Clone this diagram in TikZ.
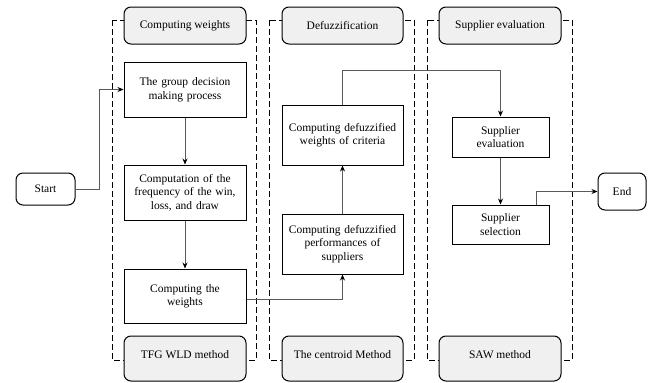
\documentclass[tikz,border=0pt]{standalone}
\usepackage{fontspec}
\setmainfont{Liberation Serif}
\usepackage{tikz}
\usetikzlibrary{arrows.meta,shapes}

\tikzset{
    lane/.style={draw, dashed, line width=1pt, dash pattern=on 6pt off 3pt},
    tag/.style={draw, rounded corners=7pt, fill=black!6, line width=1pt,
        minimum width=122pt, inner sep=0pt, font=\fontsize{11.5}{13.5}\selectfont},
    proc/.style={draw, line width=1pt, minimum width=122pt, inner sep=0pt,
        align=center, text width=116pt, font=\fontsize{11.5}{13.5}\selectfont},
    term/.style={draw, rounded corners=7pt, line width=1pt, inner sep=0pt,
        font=\fontsize{11.5}{13.5}\selectfont},
    flow/.style={draw=black!65, line width=0.7pt, -{Stealth[length=6pt,width=5pt,black]}}
}

\begin{document}
\begin{tikzpicture}[x=1pt,y=-1pt]
    \useasboundingbox (0,0) rectangle (651,383);

    % lanes
    \draw[lane] (112,20) rectangle (256,360);
    \draw[lane] (269,20) rectangle (414,360);
    \draw[lane] (427,20) rectangle (572,360);

    % headers and footers
    \node[tag, minimum height=37pt] (hdrA) at (185,25.5) {Computing weights};
    \node[tag, minimum height=37pt, minimum width=121pt] (hdrB) at (342.5,25.5) {Defuzzification};
    \node[tag, minimum height=37pt] (hdrC) at (500,25.5) {Supplier evaluation};
    \node[tag, minimum height=45pt, text depth=8pt] (ftrA) at (185,358.5) {TFG WLD method};
    \node[tag, minimum height=45pt, text depth=8pt, minimum width=121pt] (ftrB) at (342.5,358.5) {The centroid Method};
    \node[tag, minimum height=45pt, text depth=8pt] (ftrC) at (500,358.5) {SAW method};

    % start and end
    \node[term, minimum width=59pt, minimum height=32pt] (start) at (45.5,189) {Start};
    \node[term, minimum width=48pt, minimum height=37pt] (end) at (622,191.5) {End};

    % computing weights
    \node[proc, minimum height=55pt] (group) at (185,89.5) {The group decision\\making process};
    \node[proc, minimum height=55pt] (freq) at (185,192.5) {Computation of the\\frequency of the win,\\loss, and draw};
    \node[proc, minimum height=54pt] (wts) at (185,296) {Computing the\\weights\\[6pt]};

    % defuzzification
    \node[proc, minimum height=60pt, minimum width=121pt] (defw) at (342.5,135) {Computing defuzzified\\weights of criteria\\[10pt]};
    \node[proc, minimum height=60pt, minimum width=121pt] (defp) at (342.5,244) {Computing defuzzified\\performances of\\suppliers};

    % supplier evaluation
    \node[proc, minimum height=40pt, minimum width=97pt, text width=90pt] (seval) at (500.5,137) {Supplier\\evaluation};
    \node[proc, minimum height=39pt, minimum width=97pt, text width=90pt] (ssel) at (500.5,224.5) {Supplier\\selection};

    % connectors
    \draw[flow] (start.east) -- ++(24,0) |- (group.west);
    \draw[flow] (group.south) -- (freq.north);
    \draw[flow] (freq.south) -- (wts.north);
    \draw[flow] ([yshift=-3pt]wts.east) -| (defp.south);
    \draw[flow] (defp.north) -- (defw.south);
    \draw[flow] (defw.north) -- ++(0,-34) -| (seval.north);
    \draw[flow] (seval.south) -- (ssel.north);
    \draw[flow] ([xshift=36pt]ssel.north) |- (end.west);
\end{tikzpicture}
\end{document}
